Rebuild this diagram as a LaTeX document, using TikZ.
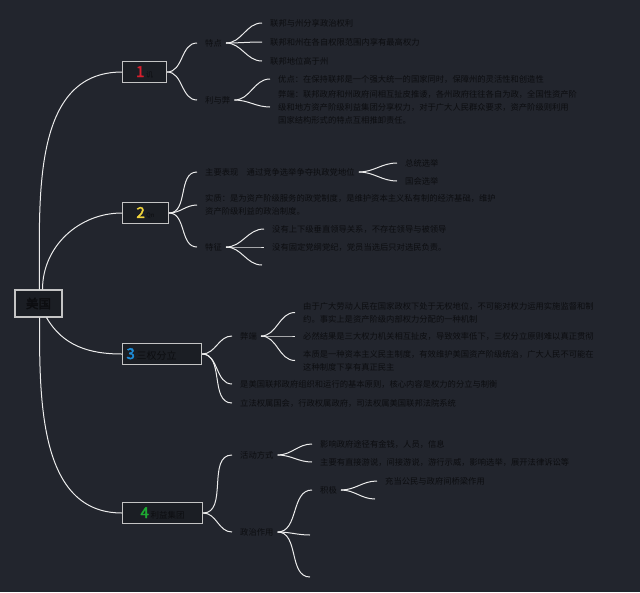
\documentclass[tikz,border=0pt]{standalone}
\usepackage{fontspec}
\newfontfamily\cjk[AutoFakeBold=2.5]{Noto Sans CJK SC}
\definecolor{bgdark}{RGB}{34,37,45}
\definecolor{inkdark}{RGB}{12,13,16}
\definecolor{wire}{RGB}{236,236,236}
\definecolor{rimgray}{RGB}{196,196,196}
\definecolor{numred}{RGB}{215,30,45}
\definecolor{numyellow}{RGB}{240,212,60}
\definecolor{numblue}{RGB}{30,140,215}
\definecolor{numgreen}{RGB}{30,170,50}
\newcommand{\bignum}[2]{{\cjk\bfseries\fontsize{15}{15}\selectfont\color{#1}#2}}

\begin{document}
\begin{tikzpicture}[
    x=1pt, y=-1pt,
    rootbox/.style={draw=rimgray, line width=1.1pt, fill=bgdark!80!black, minimum width=47pt, minimum height=27pt, inner sep=0pt, text=inkdark, font=\cjk\bfseries\fontsize{12.5}{12.5}\selectfont},
    topic/.style={draw=rimgray, line width=1.1pt, fill=bgdark!80!black, minimum height=21pt, inner sep=2pt, anchor=west, text=inkdark, font=\cjk},
    lab/.style={anchor=west, inner sep=0pt, text=inkdark, align=left, font=\cjk\fontsize{8.3}{13}\selectfont},
    link/.style={draw=wire, line width=1pt}
]
    \useasboundingbox[fill=bgdark] (0,0) rectangle (640,592);

    % Root and main topics
    \node[rootbox] (usa) at (38.5,303.5) {美国};
    \node[topic, minimum width=44pt] (fed) at (122,72) {\bignum{numred}{1}\,{\fontsize{7}{7}\selectfont 讥}};
    \node[topic, minimum width=46pt] (party) at (122,213) {\bignum{numyellow}{2}\,{\fontsize{6}{6}\selectfont Qn}};
    \node[topic, text width=71pt, inner xsep=4pt, align=left] (sep) at (122,354) {\bignum{numblue}{3}\,{\fontsize{10}{10}\selectfont 三权分立}};
    \node[topic, minimum width=80pt] (group) at (122,513) {\bignum{numgreen}{4}\,{\fontsize{8.5}{8.5}\selectfont 利益集团}};

    % Branch 1
    \node[lab] (fedA) at (205,43) {特点};
    \node[lab] (fedB) at (205,100) {利与弊};
    \node[lab] (fedA1) at (270,23) {联邦与州分享政治权利};
    \node[lab] (fedA2) at (270,42) {联邦和州在各自权限范围内享有最高权力};
    \node[lab] (fedA3) at (270,61) {联邦地位高于州};
    \node[lab] (fedB1) at (278,79) {优点：在保持联邦是一个强大统一的国家同时，保障州的灵活性和创造性};
    \node[lab] (fedB2) at (278,107) {弊端：联邦政府和州政府间相互扯皮推诿，各州政府往往各自为政，全国性资产阶\\级和地方资产阶级利益集团分享权力，对于广大人民群众要求，资产阶级则利用\\国家结构形式的特点互相推卸责任。};

    % Branch 2
    \node[lab] (partyA) at (205,172) {主要表现\quad 通过竞争选举争夺执政党地位};
    \node[lab] (partyA1) at (405,163) {总统选举};
    \node[lab] (partyA2) at (405,181) {国会选举};
    \node[lab] (partyB) at (205,205) {实质：是为资产阶级服务的政党制度，是维护资本主义私有制的经济基础，维护\\资产阶级利益的政治制度。};
    \node[lab] (partyC) at (205,247) {特征};
    \node[lab] (partyC1) at (272,229) {没有上下级垂直领导关系，不存在领导与被领导};
    \node[lab] (partyC2) at (272,247) {没有固定党纲党纪，党员当选后只对选民负责。};
    \coordinate (partyC3) at (262,265);

    % Branch 3
    \node[lab] (sepA) at (240,336) {弊端};
    \node[lab] (sepA1) at (303,312.5) {由于广大劳动人民在国家政权下处于无权地位，不可能对权力运用实施监督和制\\约。事实上是资产阶级内部权力分配的一种机制};
    \node[lab] (sepA2) at (303,336) {必然结果是三大权力机关相互扯皮，导致效率低下，三权分立原则难以真正贯彻};
    \node[lab] (sepA3) at (303,360.5) {本质是一种资本主义民主制度，有效维护美国资产阶级统治，广大人民不可能在\\这种制度下享有真正民主};
    \node[lab] (sepB) at (240,384) {是美国联邦政府组织和运行的基本原则，核心内容是权力的分立与制衡};
    \node[lab] (sepC) at (240,403) {立法权属国会，行政权属政府，司法权属美国联邦法院系统};

    % Branch 4
    \node[lab] (grpA) at (240,455) {活动方式};
    \node[lab] (grpA1) at (320,444) {影响政府途径有金钱，人员，信息};
    \node[lab] (grpA2) at (320,462) {主要有直接游说，间接游说，游行示威，影响选举，展开法律诉讼等};
    \node[lab] (grpB) at (240,532) {政治作用};
    \node[lab] (grpB1) at (320,490) {积极};
    \node[lab] (grpB1a) at (385,481) {充当公民与政府间桥梁作用};
    \coordinate (grpB1b) at (375,499);
    \coordinate (grpB2) at (310,535);
    \coordinate (grpB3) at (310,577);

    % Root connectors
    \draw[link] ([xshift=1pt]usa.north) to[out=90, in=180] (fed.west);
    \draw[link] ([xshift=4pt]usa.north) to[out=90, in=180] (party.west);
    \draw[link] ([xshift=8pt]usa.south) to[out=-60, in=180] (sep.west);
    \draw[link] ([xshift=1pt]usa.south) to[out=-90, in=180] (group.west);

    % Topic connectors
    \foreach \from/\to in {fed/fedA, fed/fedB, party/partyA, party/partyB, party/partyC, sep/sepA, sep/sepB, sep/sepC, group/grpA, group/grpB}
        \draw[link] (\from.east) to[out=0, in=180] ([xshift=-8pt]\to.west);

    % Leaf connectors
    \foreach \from/\to in {fedA/fedA1, fedA/fedA2, fedA/fedA3, fedB/fedB1, fedB/fedB2, partyA/partyA1, partyA/partyA2, partyC/partyC1, partyC/partyC2, sepA/sepA1, sepA/sepA2, sepA/sepA3, grpA/grpA1, grpA/grpA2, grpB/grpB1, grpB1/grpB1a}
        \draw[link] ([xshift=4pt]\from.east) to[out=0, in=180] ([xshift=-8pt]\to.west);
    \foreach \from/\to in {partyC/partyC3, grpB/grpB2, grpB/grpB3, grpB1/grpB1b}
        \draw[link] ([xshift=4pt]\from.east) to[out=0, in=180] (\to);
\end{tikzpicture}
\end{document}
